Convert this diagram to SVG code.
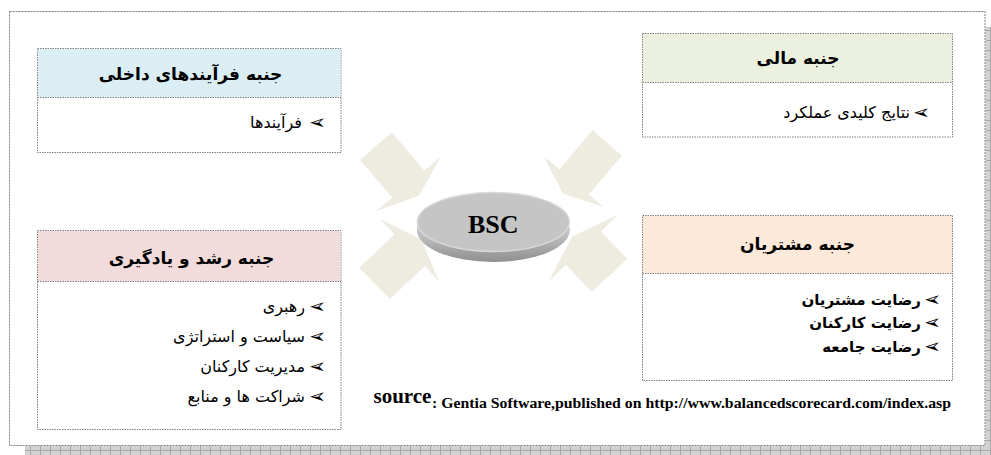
<svg xmlns="http://www.w3.org/2000/svg" width="991" height="455" viewBox="0 0 991 455">
<style>
.frame{fill:#ffffff;stroke:#7f7f7f;stroke-width:1;stroke-dasharray:2 1}
.box{fill:#ffffff;stroke:#7f7f7f;stroke-width:1;stroke-dasharray:1.5 1}
.sep{stroke:#7f7f7f;stroke-width:1;stroke-dasharray:1.5 1}
.arrow{fill:#eeece1;stroke:none}
.fa{font-family:"DejaVu Sans",sans-serif;fill:#000}
.title{font-size:17px;font-weight:bold;text-anchor:middle}
.item{font-size:16px;text-anchor:end}
.bi{font-size:15px;font-weight:bold;text-anchor:end}
.bul{font-family:"DejaVu Sans",sans-serif;font-size:20px;fill:#000}
.lat{font-family:"Liberation Serif","Times New Roman",serif;font-weight:bold;fill:#000}
</style>
<defs>
<pattern id="hatch" width="10" height="10" patternUnits="userSpaceOnUse">
<rect width="10" height="10" fill="#d2d2d2"/>
<path d="M0.5 0V10M0 0.5H10" stroke="#a9a9a9" stroke-width="1"/>
</pattern>
<linearGradient id="rim" x1="0" y1="0" x2="0" y2="1">
<stop offset="0" stop-color="#e2e2e2"/>
<stop offset="0.6" stop-color="#bdbdbd"/>
<stop offset="1" stop-color="#8f8f8f"/>
</linearGradient>
</defs>

<g id="background">
<rect x="985.5" y="27" width="5.5" height="428" fill="url(#hatch)"/>
<rect x="25" y="446" width="966" height="9" fill="url(#hatch)"/>
<rect class="frame" x="9.5" y="11.5" width="975.5" height="434"/>
</g>

<g id="connectors">
<polygon class="arrow" points="391.7,132.3 424.4,170.4 440.7,156.7 418.8,196 376,211 392.1,197.5 360,160"/>
<polygon class="arrow" points="380,219 421.3,239.4 439.3,281.7 424.7,266.2 390,299 359.3,267.7 394.5,234.4"/>
<polygon class="arrow" points="592.7,130 621.7,155.7 588.8,194.4 603.3,206.7 562.9,193.4 543.3,155.7 559.3,169.3"/>
<polygon class="arrow" points="618.3,214.6 600.8,231.4 627.3,259 591.7,291.7 565.9,264.8 548.3,281.7 572.2,236.6"/>
</g>

<g id="bsc">
<ellipse cx="493.3" cy="230" rx="76.5" ry="32" fill="url(#rim)"/>
<ellipse cx="493.3" cy="222" rx="76" ry="29.5" fill="#c5c5c5" stroke="#d9d9d9" stroke-width="1.5"/>
<text class="lat" x="493.3" y="233" font-size="26" text-anchor="middle">BSC</text>
</g>

<g id="internal">
<rect class="box" x="37.5" y="48.5" width="303.5" height="104"/>
<rect x="38" y="49" width="302.5" height="48" fill="#daeef3"/>
<line class="sep" x1="37.5" y1="97.5" x2="341" y2="97.5"/>
<text class="fa title" x="190.5" y="80">جنبه فرآیندهای داخلی</text>
<text class="bul" transform="translate(326,129) scale(-1,1)">➢</text>
<text class="fa item" x="302" y="128">فرآیندها</text>
</g>

<g id="financial">
<rect class="box" x="642.5" y="33.5" width="310" height="103.5"/>
<rect x="643" y="34" width="309" height="48" fill="#ebf1de"/>
<line class="sep" x1="642.5" y1="82.5" x2="952.5" y2="82.5"/>
<text class="fa title" x="798" y="64">جنبه مالی</text>
<text class="bul" transform="translate(930,119) scale(-1,1)">➢</text>
<text class="fa item" x="910" y="118">نتایج کلیدی عملکرد</text>
</g>

<g id="customer">
<rect class="box" x="642.5" y="215.5" width="310" height="165"/>
<rect x="643" y="216" width="309" height="57" fill="#fde9d9"/>
<line class="sep" x1="642.5" y1="273.5" x2="952.5" y2="273.5"/>
<text class="fa title" x="797.5" y="250">جنبه مشتریان</text>
<text class="bul" font-weight="bold" transform="translate(941,306) scale(-1,1)">➢</text>
<text class="fa bi" x="921" y="305">رضایت مشتریان</text>
<text class="bul" font-weight="bold" transform="translate(941,329) scale(-1,1)">➢</text>
<text class="fa bi" x="921" y="328">رضایت کارکنان</text>
<text class="bul" font-weight="bold" transform="translate(941,353) scale(-1,1)">➢</text>
<text class="fa bi" x="921" y="352">رضایت جامعه</text>
</g>

<g id="learning">
<rect class="box" x="37.5" y="230.5" width="303.5" height="199"/>
<rect x="38" y="231" width="302.5" height="50" fill="#f2dcdb"/>
<line class="sep" x1="37.5" y1="281.5" x2="341" y2="281.5"/>
<text class="fa title" x="191.5" y="264">جنبه رشد و یادگیری</text>
<text class="bul" transform="translate(326,313) scale(-1,1)">➢</text>
<text class="fa item" x="305" y="312">رهبری</text>
<text class="bul" transform="translate(326,343) scale(-1,1)">➢</text>
<text class="fa item" x="305" y="342">سیاست و استراتژی</text>
<text class="bul" transform="translate(326,373) scale(-1,1)">➢</text>
<text class="fa item" x="305" y="372">مدیریت کارکنان</text>
<text class="bul" transform="translate(326,403) scale(-1,1)">➢</text>
<text class="fa item" x="305" y="402">شراکت ها و منابع</text>
</g>

<g id="source">
<text class="lat" x="373.5" y="403.3" font-size="21">source</text>
<text class="lat" x="432" y="408" font-size="15" textLength="519" lengthAdjust="spacingAndGlyphs">: Gentia Software,published on http://www.balancedscorecard.com/index.asp</text>
</g>
</svg>
